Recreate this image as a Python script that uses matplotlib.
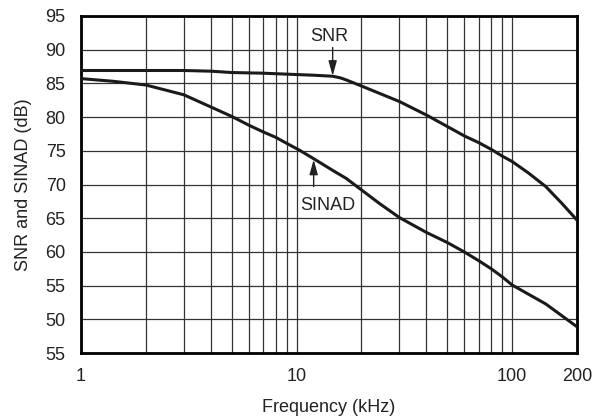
import matplotlib
matplotlib.use("Agg")
import matplotlib.pyplot as plt

plt.rcParams["font.family"] = ["Liberation Sans", "DejaVu Sans"]

# ---- data ----
snr_f = [1, 2, 3, 4, 5, 7, 10, 12, 14.7, 16, 17, 20, 30, 40, 50, 60, 70, 80, 90, 100, 119, 143, 170, 200]
snr_db = [86.9, 86.9, 86.9, 86.8, 86.6, 86.5, 86.3, 86.2, 86.05, 85.8, 85.5, 84.6, 82.3, 80.3, 78.6,
          77.2, 76.2, 75.2, 74.2, 73.4, 71.7, 69.7, 67.2, 64.7]

sinad_f = [1, 1.41, 2, 3, 4, 5, 6, 7, 8, 9, 10.3, 11.9, 14.7, 17, 20, 24.2, 30, 40, 50, 60,
           70, 80, 90, 100, 143, 200]
sinad_db = [85.7, 85.3, 84.75, 83.3, 81.5, 80.1, 78.8, 77.8, 77.0, 76.1, 75.1, 73.9, 72.1, 70.9,
            69.2, 67.2, 65.1, 62.9, 61.4, 60.0, 58.7, 57.5, 56.3, 55.1, 52.3, 48.9]

y_ticks = [45, 50, 55, 60, 65, 70, 75, 80, 85, 90, 95]
y_ticklabels = ["55", "50", "55", "60", "65", "70", "75", "80", "85", "90", "95"]
x_ticks = [1, 10, 100, 200]
x_ticklabels = ["1", "10", "100", "200"]
x_minor = [2, 3, 4, 5, 6, 7, 8, 9, 20, 30, 40, 50, 60, 70, 80, 90]

TXT = "#222222"

fig = plt.figure(figsize=(5.95, 4.17), dpi=100)
ax = fig.add_axes([0.136, 0.153, 0.834, 0.809])

ax.plot(snr_f, snr_db, color="#1a1a1a", lw=2.2, zorder=3)
ax.plot(sinad_f, sinad_db, color="#1a1a1a", lw=2.2, zorder=3)

ax.set_xscale("log")
ax.set_xlim(1, 200)
ax.set_ylim(45, 95)

ax.set_xticks(x_ticks)
ax.set_xticklabels(x_ticklabels)
ax.set_xticks(x_minor, minor=True)
ax.xaxis.set_minor_formatter(plt.NullFormatter())
ax.set_yticks(y_ticks)
ax.set_yticklabels(y_ticklabels)
ax.tick_params(axis="both", which="both", length=0, labelsize=13, colors=TXT)
ax.tick_params(axis="y", pad=11)
ax.tick_params(axis="x", pad=11)

ax.grid(True, which="both", color="#333333", lw=0.9)
ax.set_axisbelow(True)
for s in ax.spines.values():
    s.set_linewidth(2)
    s.set_color("black")

ax.set_xlabel("Frequency (kHz)", fontsize=13, color=TXT, labelpad=10)
ax.set_ylabel("SNR and SINAD (dB)", fontsize=13, color=TXT, labelpad=10)

# annotations
arrow = dict(arrowstyle="-|>,head_length=0.9,head_width=0.25", color=TXT, lw=1,
             mutation_scale=10, shrinkA=0, shrinkB=0)
ax.text(14.2, 91.3, "SNR", ha="center", va="baseline", fontsize=13, color=TXT)
ax.annotate("", xy=(14.7, 86.1), xytext=(14.7, 90.3), arrowprops=arrow)
ax.text(14.0, 66.2, "SINAD", ha="center", va="baseline", fontsize=13, color=TXT)
ax.annotate("", xy=(12.0, 73.7), xytext=(12.0, 69.7), arrowprops=arrow)

fig.savefig("out.png", dpi=100)
